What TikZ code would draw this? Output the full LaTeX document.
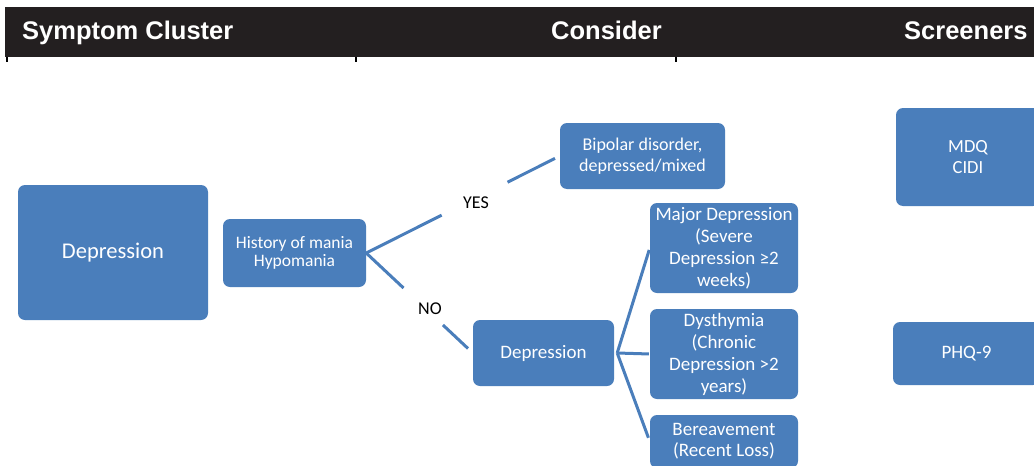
\documentclass[tikz,border=0pt]{standalone}
\usepackage{fontspec}
\newfontfamily\carlito{Carlito}
\newfontfamily\hdrfont{Liberation Sans}
\usetikzlibrary{calc}
\definecolor{boxblue}{HTML}{4A7EBB}
\definecolor{barblack}{HTML}{231F20}
\tikzset{
  bx/.style={rectangle, rounded corners=7pt, fill=boxblue, draw=none, text=white,
    align=center, inner sep=0pt, font=\carlito\fontsize{18}{21}\selectfont},
  conn/.style={draw=boxblue, line width=3pt},
  hdr/.style={anchor=base west, text=white, inner sep=0pt, font=\hdrfont\bfseries\fontsize{25.5}{28}\selectfont},
  lbl/.style={text=black, inner sep=0pt, font=\carlito\fontsize{18}{20}\selectfont},
  tick/.style={draw=black, line width=1.2pt}
}
\begin{document}
\begin{tikzpicture}[x=1pt,y=-1pt]
\path[use as bounding box] (0,0) rectangle (1034,466);
\clip (0,0) rectangle (1034,466);
% header
\fill[barblack] (5,7) rectangle (1040,57);
\draw[tick] (7,57) -- (7,62);
\draw[tick] (356,57) -- (356,62);
\draw[tick] (676,57) -- (676,62);
\node[hdr] (h1) at (22,39.5) {Symptom Cluster};
\node[hdr] (h2) at (551,39.5) {Consider};
\node[hdr] (h3) at (904,39.5) {Screeners};
% boxes
\node[bx, minimum width=190pt, minimum height=135pt, font=\carlito\fontsize{22.5}{26}\selectfont] (dep) at (113,252.5) {Depression};
\node[bx, minimum width=143pt, minimum height=68pt, font=\carlito\fontsize{17.5}{18}\selectfont] (hist) at (294.5,253) {History of mania\\Hypomania};
\node[bx, minimum width=165pt, minimum height=66pt] (bip) at (642.5,156) {Bipolar disorder,\\depressed/mixed};
\node[bx, minimum width=141pt, minimum height=66pt, font=\carlito\fontsize{19}{22}\selectfont] (dep2) at (543.5,353) {Depression};
\node[bx, minimum width=148pt, minimum height=90pt, font=\carlito\fontsize{19}{22}\selectfont] (major) at (724,248) {Major Depression\\(Severe\\Depression ≥2\\weeks)};
\node[bx, minimum width=148pt, minimum height=90pt, font=\carlito\fontsize{19}{22}\selectfont] (dys) at (724,354) {Dysthymia\\(Chronic\\Depression >2\\years)};
\node[bx, minimum width=148pt, minimum height=53pt, font=\carlito\fontsize{19}{21}\selectfont] (ber) at (724,441.5) {Bereavement\\(Recent Loss)};
\node[bx, minimum width=144pt, minimum height=98pt, font=\carlito\fontsize{18.5}{21}\selectfont] (mdq) at (968,157) {MDQ\\CIDI};
\node[bx, minimum width=147pt, minimum height=63pt, font=\carlito\fontsize{19}{21}\selectfont] (phq) at (966.5,353.5) {PHQ-9};
% connectors
\draw[conn] (hist.east) -- ($(hist.east)!0.39!(bip.west)$)
            ($(hist.east)!0.73!(bip.west)$) -- ($(hist.east)!0.975!(bip.west)$);
\draw[conn] (hist.east) -- ($(hist.east)!0.35!(dep2.west)$)
            ($(hist.east)!0.72!(dep2.west)$) -- ($(hist.east)!0.955!(dep2.west)$);
\node[lbl] (yes) at (476,203) {YES};
\node[lbl] (no) at (430,309) {NO};
\coordinate (fan) at ($(dep2.east)+(3,0)$);
\draw[conn, shorten >=2pt] (fan) -- (major.west);
\draw[conn, shorten >=1pt] (fan) -- (dys.west);
\draw[conn, shorten >=4pt] (fan) -- (ber.west);
\end{tikzpicture}
\end{document}
